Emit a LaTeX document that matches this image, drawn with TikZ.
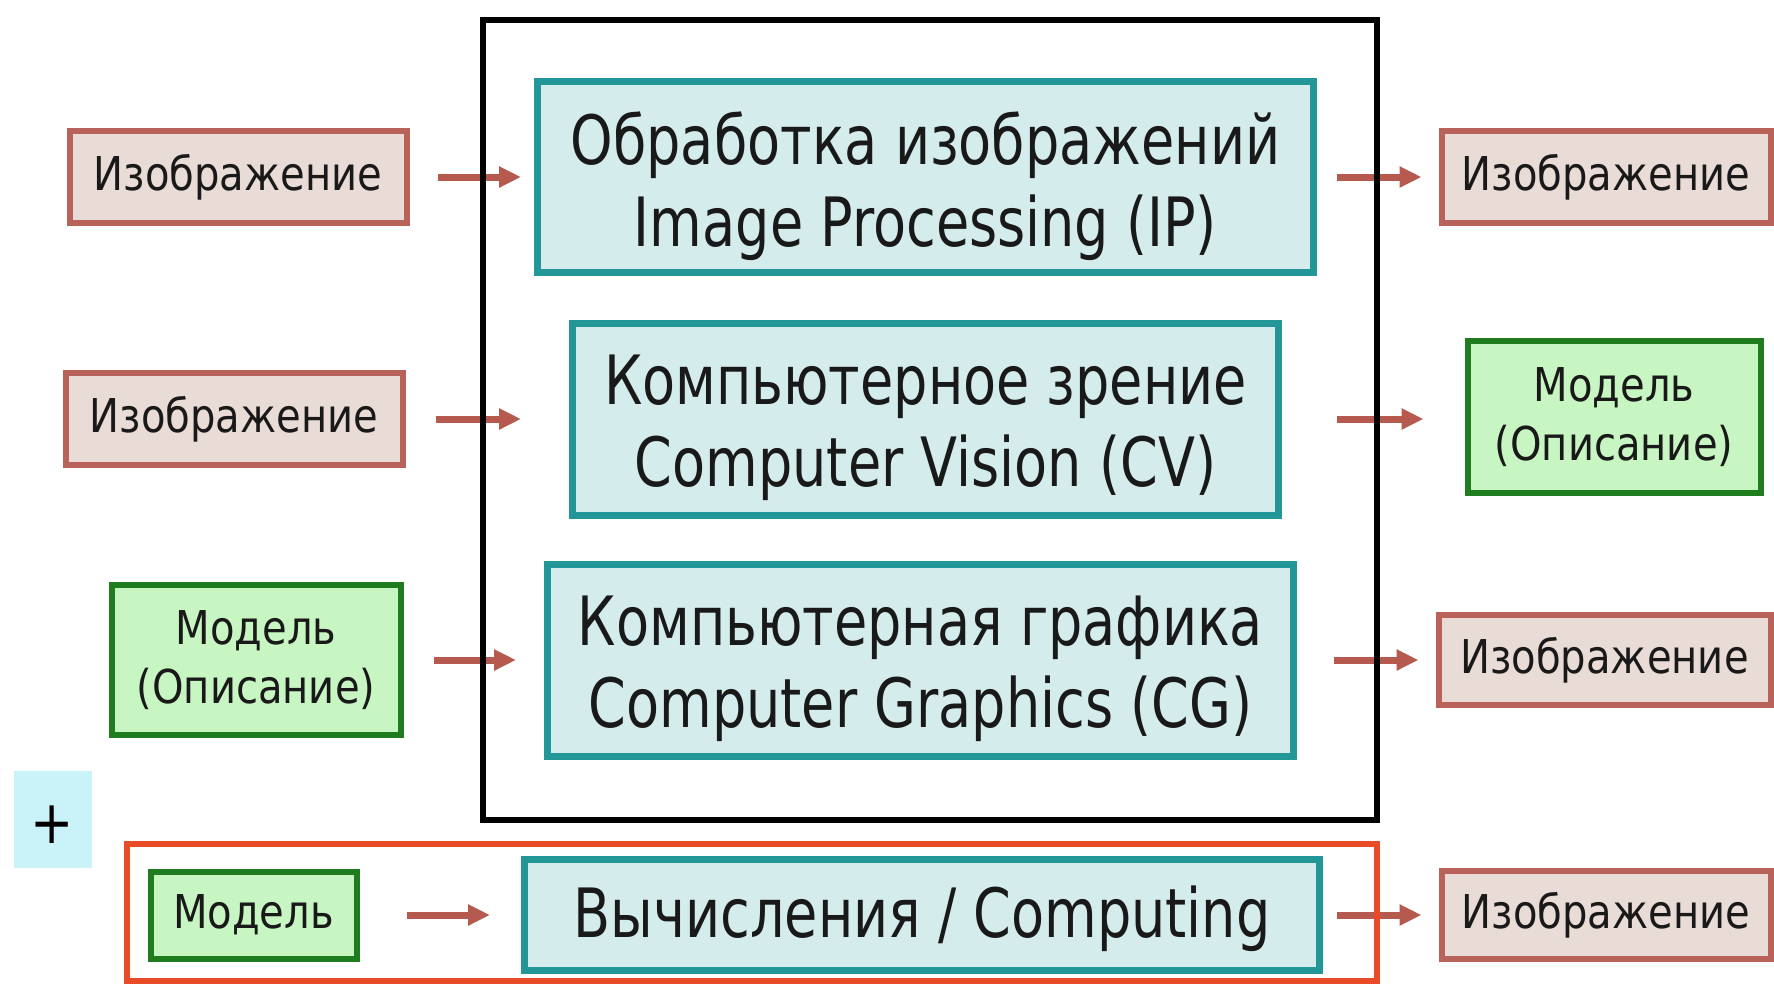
\documentclass[tikz,border=0pt]{standalone}
\usepackage{fontspec}
\setmainfont{DejaVu Sans}[FakeStretch=0.86]
\newfontfamily\bigfam{DejaVu Sans}[FakeStretch=0.795]
\usetikzlibrary{arrows.meta}
\definecolor{pinkfill}{HTML}{E9DCD6}
\definecolor{pinkline}{HTML}{B8625A}
\definecolor{tealfill}{HTML}{D4ECEC}
\definecolor{tealline}{HTML}{239797}
\definecolor{greenfill}{HTML}{C8F6C2}
\definecolor{greenline}{HTML}{1F7D1F}
\definecolor{orangeline}{HTML}{E84B26}
\definecolor{arrowcol}{HTML}{B65A50}
\definecolor{plusfill}{HTML}{CAF3F9}
\begin{document}
\begin{tikzpicture}[x=0.5pt,y=-0.5pt,
  smallfont/.style={font=\fontsize{23.3}{29.5}\selectfont},
  bigfont/.style={font=\bigfam\fontsize{34}{41}\selectfont},
  pinkbox/.style={draw=pinkline, fill=pinkfill, line width=3pt, inner sep=0pt, align=center, smallfont, text=black!90},
  greenbox/.style={draw=greenline, fill=greenfill, line width=3pt, inner sep=0pt, align=center, smallfont, text=black!90},
  tealbox/.style={draw=tealline, fill=tealfill, line width=3.5pt, inner sep=0pt},
  bigtext/.style={inner sep=0pt, align=center, bigfont, text=black!90},
  framebox/.style={line width=3pt, inner sep=0pt},
  arr/.style={draw=arrowcol, line width=3.5pt, -{Triangle[length=11pt,width=10pt]}}
]
\useasboundingbox (0,0) rectangle (1774,986);
\fill[white] (0,0) rectangle (1774,986);

% left inputs
\node[pinkbox, minimum width=168.5pt, minimum height=46pt] (l1) at (238,177) {Изображение};
\node[pinkbox, minimum width=168.5pt, minimum height=46pt] (l2) at (234,419) {Изображение};
\node[greenbox, minimum width=144.5pt, minimum height=75pt] (l3) at (256,660) {Модель\\(Описание)};
\node[greenbox, minimum width=103pt, minimum height=43.5pt] (m) at (253.5,915) {Модель};

% central processes
\node[tealbox, minimum width=388pt, minimum height=95.5pt] (ip) at (925.5,177) {};
\node[bigtext] (iptext) at ([yshift=-4.5pt]ip.center) {Обработка изображений\\Image Processing (IP)};
\node[tealbox, minimum width=353pt, minimum height=96pt] (cv) at (925.5,419) {};
\node[bigtext] (cvtext) at ([yshift=-4.5pt]cv.center) {Компьютерное зрение\\Computer Vision (CV)};
\node[tealbox, minimum width=373pt, minimum height=96pt] (cg) at (920.5,660) {};
\node[bigtext] (cgtext) at ([yshift=-4.5pt]cg.center) {Компьютерная графика\\Computer Graphics (CG)};
\node[tealbox, minimum width=397.5pt, minimum height=55.5pt] (comp) at (922,915) {};
\node[bigtext] (comptext) at ([yshift=-1.8pt]comp.center) {Вычисления / Computing};

% right outputs
\node[pinkbox, minimum width=164.5pt, minimum height=46pt] (r1) at (1606,177) {Изображение};
\node[greenbox, minimum width=146.5pt, minimum height=76pt] (r2) at (1614,417) {Модель\\(Описание)};
\node[pinkbox, minimum width=166pt, minimum height=45pt] (r3) at (1604.5,660) {Изображение};
\node[pinkbox, minimum width=164.5pt, minimum height=44pt] (r4) at (1606,915) {Изображение};

% plus sign
\node[fill=plusfill, minimum width=39pt, minimum height=48.5pt, inner sep=0pt] (plusbg) at (53,819.5) {};
\node[font=\fontsize{30}{30}\selectfont, inner sep=0pt] (plus) at (52,825) {+};

% arrows
\draw[arr, shorten <=14pt, shorten >=6.5pt] (l1.east) -- (ip.west);
\draw[arr, shorten <=10pt, shorten >=8.5pt] (ip.east) -- (r1.west);
\draw[arr, shorten <=15pt, shorten >=24pt] (l2.east) -- (cv.west |- l2.east);
\draw[arr, shorten <=27.5pt, shorten >=20.5pt] (cv.east) -- (r2.west |- cv.east);
\draw[arr, shorten <=15pt, shorten >=14pt] (l3.east) -- (cg.west);
\draw[arr, shorten <=18.5pt, shorten >=8.5pt] (cg.east) -- (r3.west);
\draw[arr, shorten <=23.5pt, shorten >=15.5pt] (m.east) -- (comp.west);
\draw[arr, shorten <=7pt, shorten >=8.5pt] (comp.east) -- (r4.west);

% frames
\node[framebox, draw=black, minimum width=447pt, minimum height=400pt] (bigframe) at (930,420) {};
\node[framebox, draw=orangeline, minimum width=625pt, minimum height=68.5pt] (compframe) at (752,912.5) {};
\end{tikzpicture}
\end{document}
